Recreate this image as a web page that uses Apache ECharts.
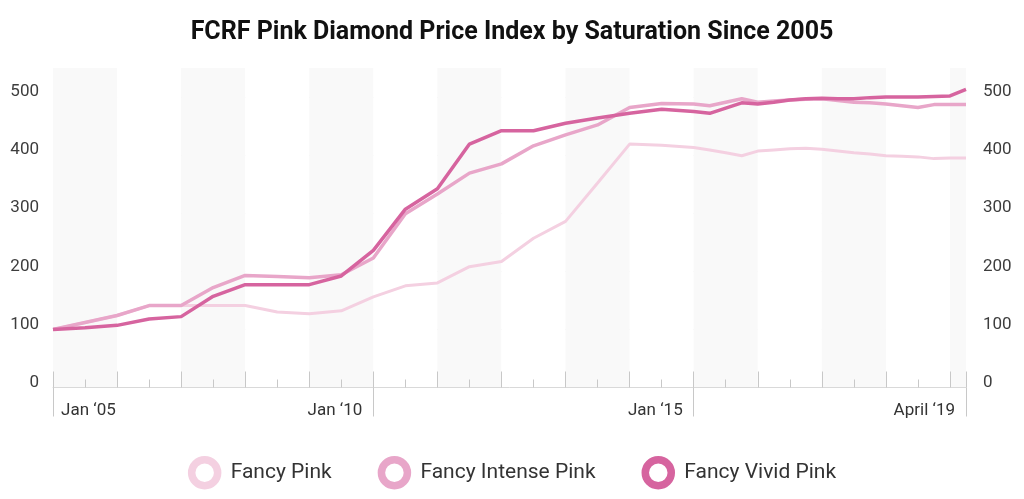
<!DOCTYPE html>
<html><head><meta charset="utf-8">
<script src="https://cdn.jsdelivr.net/npm/echarts@6/dist/echarts.min.js"></script>
<style>html,body{margin:0;padding:0;background:#fff}#c{width:1024px;height:499px}</style>
</head><body><div id="c"></div>
<script>
// time in decimal years (half-yearly to 2014.5, quarterly from 2015)
const dates = [2005,2005.5,2006,2006.5,2007,2007.5,2008,2008.5,2009,2009.5,
  2010,2010.5,2011,2011.5,2012,2012.5,2013,2013.5,2014,2014.5,
  2015,2015.25,2015.5,2015.75,2016,2016.25,2016.5,2016.75,2017,2017.25,2017.5,2017.75,
  2018,2018.25,2018.5,2018.75,2019,2019.25];
const fancyPink = [100,112,124,141,141,141,141,130,127,132,
  156,175,180,208,217,257,286,352,419,417,
  413,409,404,399,407,409,411,412,410,407,404,402,399,398,397,394,395,395];
const fancyIntensePink = [100,112,124,141,141,172,193,191,189,194,
  223,299,333,369,385,416,435,452,482,489,
  488,485,491,497,491,493,495,496,497,494,491,490,488,485,482,487,487,487];
const fancyVividPink = [100,103,107,118,122,157,177,177,177,192,
  236,307,342,419,442,442,455,464,472,479,
  475,472,481,490,488,491,495,497,498,497,497,499,500,500,500,501,502,513];
const seriesNames = ['Fancy Pink','Fancy Intense Pink','Fancy Vivid Pink'];
const xLabelValues = [2005, 2010, 2015, 2019.25];
const xLabelTexts = ['Jan \u201805', 'Jan \u201810', 'Jan \u201815', 'April \u201819'];

const colors = ['#f4d0e1', '#e8a6c9', '#d6649f'];
const lineWidths = [3, 3.5, 3.5];
const values = [fancyPink, fancyIntensePink, fancyVividPink];
const xMin = dates[0], xMax = dates[dates.length-1];
const labelOf = v => { const i = xLabelValues.indexOf(v); return i >= 0 ? xLabelTexts[i] : ''; };
const minorTickValues = [];
for (let y = Math.floor(xMin); y < Math.floor(xMax); y++) minorTickValues.push(y + 0.5);
const FONT = 'Roboto';
const tickColor = '#c8c8c8';

const chart = echarts.init(document.getElementById('c'), null, {renderer:'canvas'});
const yAxisBase = {
  type:'value', min:0, max:550, interval:100,
  axisLine:{show:false}, axisTick:{show:false},
  splitLine:{show:true, showMaxLine:false, lineStyle:{color:'#efefef', width:1}},
  axisLabel:{showMaxLabel:false, color:'#3d3d3d', fontSize:17, fontFamily:FONT,
    verticalAlign:'bottom', lineHeight:10}
};
chart.setOption({
  animation:false,
  backgroundColor:'#fff',
  title:{text:'FCRF Pink Diamond Price Index by Saturation Since 2005', left:'center', top:15,
    textStyle:{fontFamily:FONT, fontSize:25, fontWeight:'bold', color:'#111'}},
  legend:{
    data: seriesNames.map((n, k) => ({name:n, itemStyle:{color:'#fff', borderColor:colors[k], borderWidth:7.5}})),
    top:451, left:'center', icon:'circle', itemWidth:26, itemHeight:26, itemGap:46,
    textStyle:{fontFamily:FONT, fontSize:21, color:'#333', padding:[0,0,0,8]}
  },
  grid:{left:53, right:58, top:68, bottom:111.5, containLabel:false},
  xAxis:[
    {type:'value', min:xMin, max:xMax, interval:1,
     axisLine:{show:true, lineStyle:{color:'#d9d9d9', width:1}},
     axisTick:{show:true, inside:true, length:16, lineStyle:{color:tickColor, width:1}},
     splitLine:{show:false},
     splitArea:{show:true, areaStyle:{color:['#f9f9f9','#ffffff']}},
     axisLabel:{customValues:[xLabelValues[0]], formatter:labelOf, align:'left', padding:[0,0,0,8],
       margin:15, color:'#333', fontSize:17, fontFamily:FONT}
    },
    {type:'value', min:xMin, max:xMax, position:'bottom',
     axisLine:{show:false},
     axisTick:{show:true, customValues:xLabelValues, length:29, lineStyle:{color:tickColor, width:1}},
     splitLine:{show:false},
     axisLabel:{customValues:xLabelValues.slice(1), formatter:labelOf, align:'right', padding:[0,11,0,0],
       margin:15, color:'#333', fontSize:17, fontFamily:FONT}
    },
    {type:'value', min:xMin, max:xMax, position:'bottom',
     axisLine:{show:false},
     axisTick:{show:true, inside:true, customValues:minorTickValues, length:8, lineStyle:{color:tickColor, width:1}},
     splitLine:{show:false},
     axisLabel:{show:false}
    }
  ],
  yAxis:[
    Object.assign({}, yAxisBase, {position:'left', axisLabel:Object.assign({}, yAxisBase.axisLabel, {margin:14})}),
    Object.assign({}, yAxisBase, {position:'right', splitLine:{show:false}, axisLabel:Object.assign({}, yAxisBase.axisLabel, {margin:17})})
  ],
  series: seriesNames.map((name, k) => ({
    name, type:'line', xAxisIndex:0, yAxisIndex:0,
    data: dates.map((d, i) => [d, values[k][i]]),
    showSymbol:false, symbol:'none',
    lineStyle:{color:colors[k], width:lineWidths[k]},
    itemStyle:{color:colors[k]},
    z: 2 + k
  }))
});
</script></body></html>
